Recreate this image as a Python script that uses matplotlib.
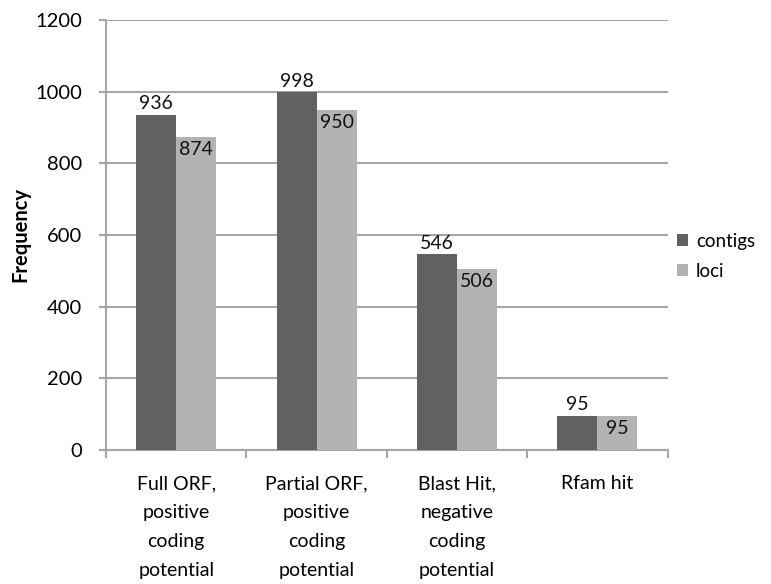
import numpy as np
import matplotlib
matplotlib.use("Agg")
import matplotlib.pyplot as plt

categories = ["Full ORF,\npositive\ncoding\npotential",
              "Partial ORF,\npositive\ncoding\npotential",
              "Blast Hit,\nnegative\ncoding\npotential",
              "Rfam hit"]
contigs = [936, 998, 546, 95]
loci = [874, 950, 506, 95]

DARK = "#616161"
LIGHT = "#b3b3b3"
GRID = "#a6a6a6"

plt.rcParams["font.family"] = ["Lato", "DejaVu Sans"]

fig = plt.figure(figsize=(7.71, 5.84), dpi=100)
ax = fig.add_axes([0.1375, 0.2295, 0.7285, 0.7363])

x = np.arange(len(categories))
w = 0.285
b1 = ax.bar(x - w / 2, contigs, w, color=DARK, label="contigs", zorder=3)
b2 = ax.bar(x + w / 2, loci, w, color=LIGHT, label="loci", zorder=3)

for rect, v in zip(b1, contigs):
    ax.annotate(str(v), (rect.get_x() + rect.get_width() / 2, v),
                xytext=(0, 2), textcoords="offset points",
                ha="center", va="bottom", fontsize=14, color="#111111")
for rect, v in zip(b2, loci):
    ax.annotate(str(v), (rect.get_x() + rect.get_width() / 2, v),
                xytext=(0, -3), textcoords="offset points",
                ha="center", va="top", fontsize=14, color="#111111")

ax.set_xlim(-0.5, len(categories) - 0.5)
ax.set_ylim(0, 1200)
ax.set_yticks(range(0, 1201, 200))
ax.yaxis.grid(True, color=GRID, lw=1.5, zorder=0)
ax.tick_params(axis="y", labelsize=14.5, length=5, width=1.5, color=GRID, pad=12)

# category labels centred, ticks at the boundaries between groups
ax.set_xticks(x)
ax.set_xticklabels(categories, fontsize=14, linespacing=1.85)
ax.tick_params(axis="x", length=0, pad=18)
ax.set_xticks(np.arange(-0.5, len(categories)), minor=True)
ax.tick_params(axis="x", which="minor", length=6, width=1.5, color=GRID)

for s in ("top", "right"):
    ax.spines[s].set_visible(False)
for s in ("left", "bottom"):
    ax.spines[s].set_color(GRID)
    ax.spines[s].set_linewidth(1.5)

ax.set_ylabel("Frequency", fontsize=14.5, fontweight="bold", labelpad=4)

ax.legend(loc="center left", bbox_to_anchor=(1.0, 0.45), frameon=False,
          fontsize=13.5, handlelength=0.6, handleheight=0.6, handletextpad=0.4,
          labelspacing=0.7, borderaxespad=0.3, borderpad=0.2)

fig.savefig("out.png", dpi=100)
